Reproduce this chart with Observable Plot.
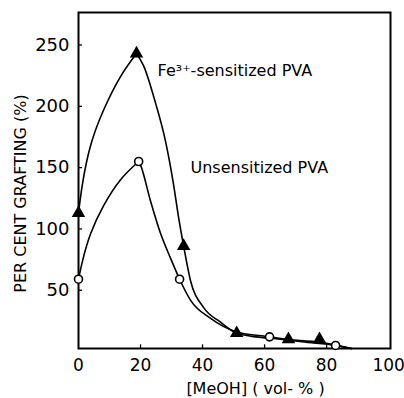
<!DOCTYPE html>
<html><head><meta charset="utf-8">
<script src="https://cdn.jsdelivr.net/npm/d3@7"></script>
<script src="https://cdn.jsdelivr.net/npm/@observablehq/plot@0.6"></script>
<style>body{margin:0;background:#fff}</style>
</head><body><div id="chart"></div>
<script>
// Measured points
const feX = [0, 18.7, 33.9, 51, 67.7, 77.7];
const feY = [113, 243, 86, 15, 10, 10];
const unX = [0, 19.4, 32.6, 61.6, 82.9];
const unY = [59, 155, 59, 12, 5];
// Hand-drawn curves (rise and fall drawn separately)
const feRiseX = [0, 1.3, 3.9, 8.1, 13.5, 18.7];
const feRiseY = [113, 137, 168, 197, 224, 243];
const feFallX = [18.7, 21, 24.8, 28.1, 30.6, 32.3, 33.9, 36.1, 40.3, 45.8, 51, 61, 68, 78, 88];
const feFallY = [243, 233, 203, 171, 137, 109, 86, 58, 36, 24, 15, 11, 9.5, 7.5, 2.5];
const unRiseX = [0, 1.3, 3.9, 8.1, 13.5, 19.4];
const unRiseY = [59, 74, 96, 119, 140, 155];
const unFallX = [19.4, 20, 23.2, 26.5, 29.7, 32.6, 36.1, 42.6, 51, 61.6, 72, 83, 88];
const unFallY = [155, 152, 123, 96, 76, 59, 42, 27, 16, 12, 8, 5, 2.5];
const xTicks = [0, 20, 40, 60, 80, 100];
const yTicks = [50, 100, 150, 200, 250];

const pts = (xs, ys) => xs.map((x, i) => ({x, y: ys[i]}));
const font = "'DejaVu Sans', Verdana, sans-serif";

const plot = Plot.plot({
  width: 404, height: 398,
  marginLeft: 78, marginRight: 14, marginTop: 12, marginBottom: 50,
  style: {fontFamily: font, fontSize: "16px", background: "#fff", color: "#000"},
  x: {domain: [0, 100.6], label: null},
  y: {domain: [2.5, 276.5], label: null},
  marks: [
    Plot.frame({stroke: "#000", strokeWidth: 2}),
    Plot.axisX({ticks: xTicks, tickSize: 0, tickPadding: 10, tickFormat: d => String(d), fontSize: 17}),
    Plot.axisY({ticks: yTicks, tickSize: 0, tickPadding: 9, tickFormat: d => String(d), fontSize: 18}),
    Plot.ruleX(xTicks.slice(1, 5), {y1: 2.5, y2: 5.5, stroke: "#000", strokeWidth: 1.3}),
    Plot.ruleY(yTicks, {x1: 0, x2: 1.3, stroke: "#000", strokeWidth: 1.3}),
    Plot.line(pts(feRiseX, feRiseY), {x: "x", y: "y", curve: "natural", stroke: "#000", strokeWidth: 1.6}),
    Plot.line(pts(feFallX, feFallY), {x: "x", y: "y", curve: "monotone-x", stroke: "#000", strokeWidth: 1.6}),
    Plot.line(pts(unRiseX, unRiseY), {x: "x", y: "y", curve: "natural", stroke: "#000", strokeWidth: 1.6}),
    Plot.line(pts(unFallX, unFallY), {x: "x", y: "y", curve: "monotone-x", stroke: "#000", strokeWidth: 1.6}),
    Plot.dot(pts(feX, feY), {x: "x", y: "y", symbol: "triangle", fill: "#000", r: 5}),
    Plot.dot(pts(unX, unY), {x: "x", y: "y", symbol: "circle", fill: "#fff", stroke: "#000", strokeWidth: 1.6, r: 4}),
    Plot.text(["Fe³⁺-sensitized PVA"], {x: 25.5, y: 229, text: d => d, textAnchor: "start", fontSize: 16}),
    Plot.text(["Unsensitized PVA"], {x: 36.1, y: 150, text: d => d, textAnchor: "start", fontSize: 16}),
    Plot.text(["PER CENT GRAFTING (%)"], {frameAnchor: "left", textAnchor: "middle", dx: -58, dy: 13, rotate: -90, text: d => d, fontSize: 16}),
    Plot.text(["[MeOH] ( vol- % )"], {frameAnchor: "bottom", dy: 45, dx: 21, text: d => d, fontSize: 16})
  ]
});
document.getElementById("chart").appendChild(plot);
</script></body></html>
